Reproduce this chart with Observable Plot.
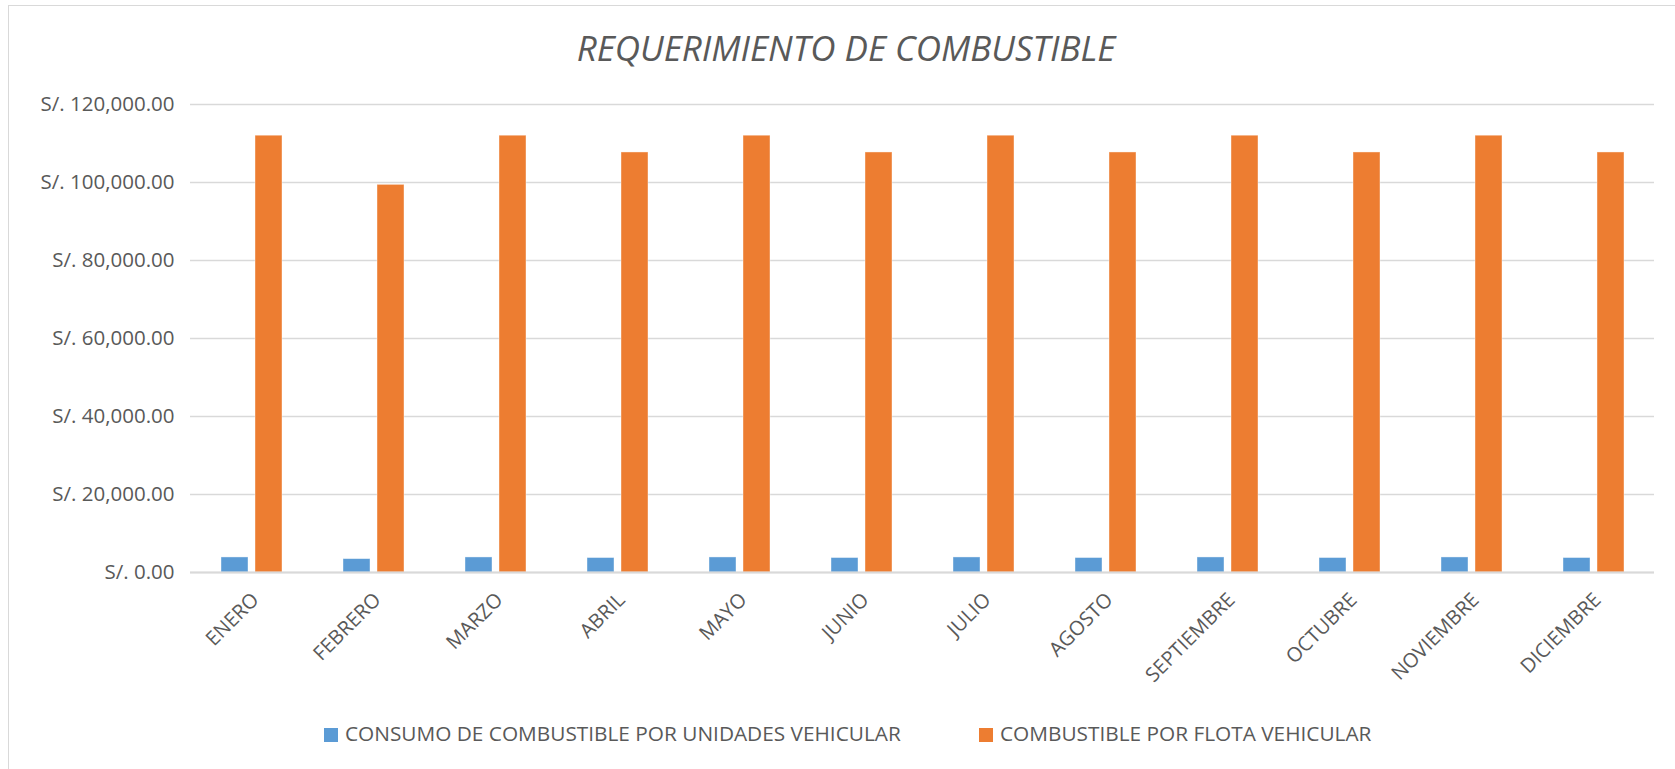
<!DOCTYPE html>
<html>
<head>
<meta charset="utf-8">
<script src="https://cdn.jsdelivr.net/npm/d3@7"></script>
<script src="https://cdn.jsdelivr.net/npm/@observablehq/plot@0.6"></script>
<style>
  html, body { margin: 0; padding: 0; background: #fff; }
  body { width: 1675px; height: 769px; overflow: hidden; position: relative; font-family: "Open Sans", sans-serif; color: #595959; }
  #frame { position: absolute; left: 8px; top: 5px; width: 1700px; height: 800px; border-left: 1.5px solid #d9d9d9; border-top: 1.5px solid #d9d9d9; box-sizing: border-box; }
  #title { position: absolute; left: 0; width: 1692px; top: 28px; text-align: center; font-style: italic; font-size: 35px; line-height: 40px; color: #595959; }
  #chart { position: absolute; left: 0; top: 80px; }
  #legend { position: absolute; top: 721px; left: 0; height: 24px; }
  .item { position: absolute; top: 0; white-space: nowrap; font-size: 20.8px; line-height: 24px; color: #595959; }
  .sw { position: absolute; top: 7px; width: 14px; height: 14px; }
  .lbl { position: absolute; top: 0; left: 21px; }
</style>
</head>
<body>
<div id="frame"></div>
<div id="title">REQUERIMIENTO DE COMBUSTIBLE</div>
<div id="chart"></div>
<div id="legend"></div>
<script>
const months = ["ENERO","FEBRERO","MARZO","ABRIL","MAYO","JUNIO","JULIO","AGOSTO","SEPTIEMBRE","OCTUBRE","NOVIEMBRE","DICIEMBRE"];
const series = ["CONSUMO DE COMBUSTIBLE POR UNIDADES VEHICULAR","COMBUSTIBLE POR FLOTA VEHICULAR"];
const colors = ["#5b9bd5","#ed7d31"];
const consumo = [3860, 3430, 3860, 3710, 3860, 3710, 3860, 3710, 3860, 3710, 3860, 3710];
const flota = [112000, 99400, 112000, 107700, 112000, 107700, 112000, 107700, 112000, 107700, 112000, 107700];
const yTicks = [0, 20000, 40000, 60000, 80000, 100000, 120000];

const data = months.flatMap((m, i) => [
  {month: m, serie: series[0], value: consumo[i]},
  {month: m, serie: series[1], value: flota[i]}
]);

const fmt = d3.format(",.2f");

const chart = Plot.plot({
  width: 1675,
  height: 620,
  marginLeft: 188,
  marginRight: 19,
  marginTop: 24,
  marginBottom: 128,
  style: {fontFamily: "Open Sans", fontSize: "20px", color: "#595959", background: "transparent", overflow: "visible"},
  fx: {domain: months, paddingInner: 0, paddingOuter: 0, label: null},
  x: {domain: series, paddingInner: 0.207, paddingOuter: 0.886, axis: null},
  y: {domain: [0, 120000], label: null},
  color: {domain: series, range: colors},
  marks: [
    Plot.gridY(yTicks, {stroke: "#d9d9d9", strokeOpacity: 1, strokeWidth: 1.5}),
    Plot.axisY(yTicks, {tickSize: 0, tickPadding: 16, fontSize: 20.5, tickFormat: d => "S/. " + fmt(d), label: null, fill: "#595959"}),
    Plot.axisFx({anchor: "bottom", tickRotate: -45, tickSize: 0, tickPadding: 24, dx: 4, label: null, fill: "#595959"}),
    Plot.barY(data, {fx: "month", x: "serie", y: "value", fill: "serie", stroke: "#fff", strokeOpacity: 0.5, strokeWidth: 0.8}),
    Plot.ruleY([0], {stroke: "#d9d9d9", strokeWidth: 2})
  ]
});
document.getElementById("chart").appendChild(chart);

const legend = document.getElementById("legend");
const lefts = [324, 979];
series.forEach((s, i) => {
  const it = document.createElement("div");
  it.className = "item";
  it.style.left = lefts[i] + "px";
  const sw = document.createElement("div");
  sw.className = "sw";
  sw.style.background = colors[i];
  const lb = document.createElement("span");
  lb.className = "lbl";
  lb.textContent = s;
  it.appendChild(sw);
  it.appendChild(lb);
  legend.appendChild(it);
});
</script>
</body>
</html>
